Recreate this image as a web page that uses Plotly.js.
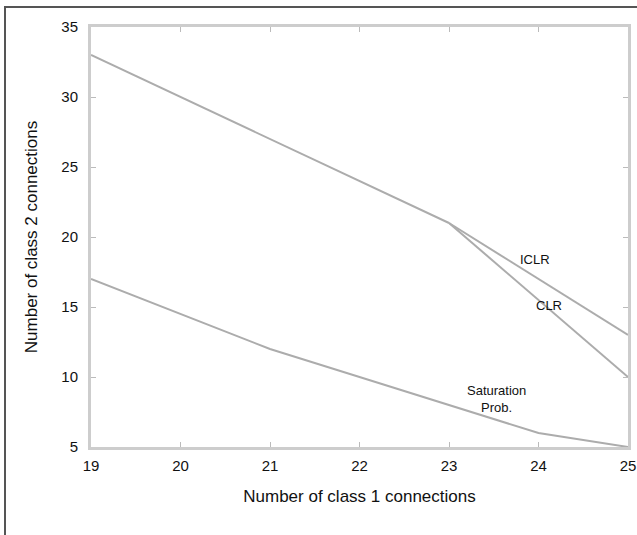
<!DOCTYPE html>
<html>
<head>
<meta charset="utf-8">
<script src="https://cdn.plot.ly/plotly-3.0.1.min.js"></script>
<style>
  html, body { margin: 0; padding: 0; background: #fff; }
  #wrap { position: relative; width: 637px; height: 535px; }
  #frame { position: absolute; left: 4px; top: 6px; width: 640px; height: 540px;
           border-top: 2px solid #555; border-left: 2px solid #555; pointer-events: none; z-index: 5; }
  #chart { position: absolute; left: 0; top: 0; width: 637px; height: 535px; }
</style>
</head>
<body>
<div id="wrap">
  <div id="chart"></div>
  <div id="frame"></div>
</div>
<script>
// Data
const class1 = [19, 20, 21, 22, 23, 24, 25];
const commonUpper = [33, 30, 27, 24, 21];          // shared part (19..23)
const iclrX = [23, 24, 25];
const iclrY = [21, 17, 13];
const clrX = [23, 24, 25];
const clrY = [21, 15.5, 10];
const saturation = [17, 14.5, 12, 10, 8, 6, 5];

const xTicks = [19, 20, 21, 22, 23, 24, 25];
const yTicks = [5, 10, 15, 20, 25, 30, 35];

const lineStyle = { color: '#acacac', width: 2 };

const traces = [
  { x: class1.slice(0, commonUpper.length), y: commonUpper, mode: 'lines', line: lineStyle, name: 'upper' },
  { x: iclrX, y: iclrY, mode: 'lines', line: lineStyle, name: 'ICLR' },
  { x: clrX, y: clrY, mode: 'lines', line: lineStyle, name: 'CLR' },
  { x: class1, y: saturation, mode: 'lines', line: lineStyle, name: 'Saturation Prob.' }
];

const font = { family: 'Liberation Sans, Arial, sans-serif', color: '#111' };

const layout = {
  width: 637, height: 535,
  margin: { l: 91, r: 9, t: 27, b: 88 },
  paper_bgcolor: '#fff', plot_bgcolor: '#fff',
  showlegend: false,
  font: font,
  xaxis: {
    range: [19, 25], tickvals: xTicks, ticktext: xTicks.map(String),
    showgrid: false, zeroline: false, automargin: false,
    showline: true, linecolor: '#cdcdcd', linewidth: 3, mirror: 'ticks',
    ticks: 'inside', ticklen: 5, tickcolor: '#bbbbbb', tickwidth: 1,
    ticklabelstandoff: 3,
    tickfont: { size: 15, family: font.family, color: '#111' },
    title: { text: 'Number of class 1 connections', font: { size: 17, family: font.family, color: '#111' }, standoff: 18 }
  },
  yaxis: {
    range: [5, 35], tickvals: yTicks, ticktext: yTicks.map(String),
    showgrid: false, zeroline: false, automargin: false,
    showline: true, linecolor: '#cdcdcd', linewidth: 3, mirror: 'ticks',
    ticks: 'inside', ticklen: 5, tickcolor: '#bbbbbb', tickwidth: 1,
    ticklabelstandoff: 7,
    tickfont: { size: 15, family: font.family, color: '#111' },
    title: { text: 'Number of class 2 connections', font: { size: 17, family: font.family, color: '#111' }, standoff: 20 }
  },
  annotations: [
    { x: 23.96, y: 18.36, text: 'ICLR', showarrow: false, font: { size: 13, family: font.family, color: '#111' } },
    { x: 24.12, y: 15.14, text: 'CLR', showarrow: false, font: { size: 13, family: font.family, color: '#111' } },
    { x: 23.53, y: 8.46, text: 'Saturation<br>Prob.', showarrow: false, align: 'center',
      font: { size: 13, family: font.family, color: '#111' } }
  ]
};

Plotly.newPlot('chart', traces, layout, { displayModeBar: false, staticPlot: true });
</script>
</body>
</html>
